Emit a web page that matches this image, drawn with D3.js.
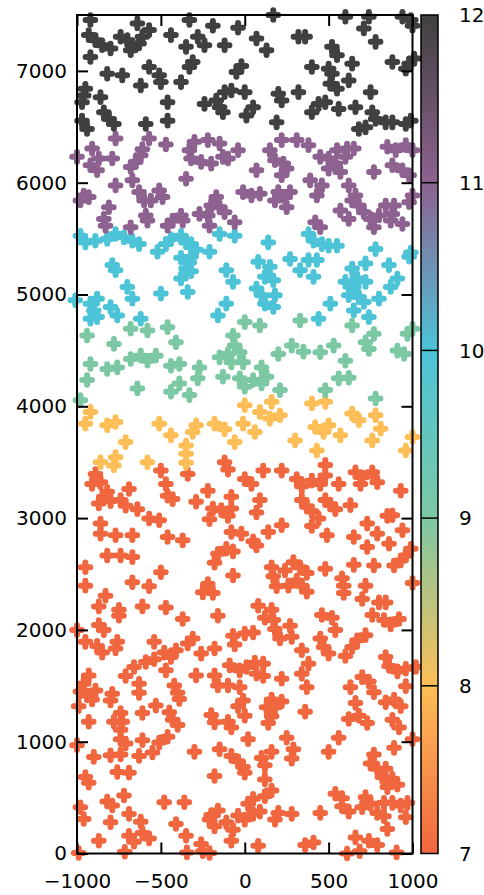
<!DOCTYPE html>
<html>
<head>
<meta charset="utf-8">
<script src="https://cdn.jsdelivr.net/npm/d3@7"></script>
<style>
  body { margin: 0; background: #fff; }
</style>
</head>
<body>
<div id="chart"></div>
<script>
// colour levels shown on the colour bar
const levels = [7, 8, 9, 10, 11, 12];
const levelColors = ["#f0663f", "#fdbe57", "#7cc8a4", "#4dc3d8", "#8e6290", "#404040"];
const xTicks = [-1000, -500, 0, 500, 1000];
const yTicks = [0, 1000, 2000, 3000, 4000, 5000, 6000, 7000];

// points per level, [x, y]
const lvl12 = [[170,7500],[-920,7455],[-640,7425],[-330,7455],[-190,7404],[-40,7386],[600,7485],[740,7485],[710,7380],[940,7485],[990,7455],[1000,7404],[-930,7320],[-890,7275],[-850,7230],[-800,7200],[-740,7305],[-700,7275],[-670,7230],[-630,7245],[-610,7305],[-570,7365],[-680,7185],[-440,7320],[-350,7215],[-280,7305],[-240,7230],[-120,7230],[70,7290],[130,7185],[320,7305],[360,7305],[-920,7125],[520,7215],[550,7140],[640,7065],[780,7260],[880,7080],[960,7020],[1010,7110],[980,7065],[-570,7035],[-310,7080],[-330,7035],[-50,6990],[-20,7044],[-820,6975],[-730,6960],[-620,6870],[-510,6960],[-500,6900],[-380,6900],[400,7035],[500,7020],[520,6975],[620,6915],[510,6885],[550,6840],[-950,6840],[-960,6780],[-860,6765],[-970,6720],[-460,6720],[-460,6555],[-240,6705],[-170,6735],[-150,6675],[-120,6810],[-80,6825],[0,6810],[-130,6630],[10,6600],[50,6675],[200,6795],[220,6735],[320,6810],[750,6810],[400,6630],[440,6705],[480,6720],[560,6660],[660,6675],[760,6630],[780,6570],[840,6540],[880,6540],[960,6525],[990,6555],[-970,6555],[-940,6480],[-840,6630],[-810,6570],[-780,6525],[-590,6525],[190,6540],[680,6480],[720,6495]];

const lvl11 = [[-770,6396],[-570,6396],[-470,6342],[-300,6366],[-220,6381],[-150,6351],[-330,6291],[-320,6216],[-260,6186],[-200,6171],[-130,6231],[-100,6216],[-40,6291],[220,6381],[310,6381],[380,6336],[150,6291],[180,6201],[230,6171],[250,6126],[220,6066],[70,6111],[-350,6036],[-1000,6231],[-910,6306],[-870,6216],[-920,6156],[-880,6111],[-790,6216],[-680,6141],[-650,6186],[-620,6246],[-610,6300],[450,6231],[500,6216],[550,6291],[610,6306],[650,6306],[600,6231],[540,6171],[500,6126],[570,6096],[850,6321],[900,6291],[960,6336],[1000,6291],[880,6156],[940,6111],[980,6066],[770,6096],[390,6021],[460,5976],[430,5886],[620,5976],[660,5886],[-770,5976],[-670,6021],[-630,5916],[-600,5841],[-560,5841],[-510,5931],[-490,5871],[-960,5886],[-930,5871],[-980,5841],[-810,5781],[-840,5676],[-830,5616],[-680,5601],[-590,5706],[-580,5661],[-10,5916],[40,5886],[90,5901],[200,5916],[240,5871],[270,5916],[250,5781],[180,5841],[-170,5871],[-200,5796],[-150,5781],[-120,5736],[-270,5721],[-220,5706],[-60,5646],[-210,5616],[-430,5661],[-460,5616],[-370,5661],[-380,5706],[570,5751],[640,5841],[680,5796],[710,5736],[750,5676],[770,5601],[840,5796],[890,5796],[880,5721],[870,5661],[800,5706],[940,5631],[980,5826],[1000,5886],[420,5646],[450,5601],[620,5676]];

const lvl10 = [[-980,5526],[-950,5466],[-890,5481],[-820,5496],[-770,5541],[-720,5511],[-670,5481],[-630,5451],[-470,5451],[-440,5496],[-380,5526],[-350,5466],[-320,5451],[-290,5400],[-150,5541],[-60,5526],[140,5466],[380,5541],[410,5481],[460,5451],[500,5436],[550,5436],[780,5406],[990,5376],[-520,5382],[-210,5382],[-380,5329],[-320,5338],[-330,5287],[-350,5233],[-320,5209],[380,5308],[430,5308],[270,5317],[980,5338],[-790,5263],[-770,5218],[-110,5218],[-70,5113],[80,5293],[150,5248],[120,5158],[170,5128],[-380,5143],[-340,5023],[-700,5068],[-670,4963],[-500,5008],[-620,4783],[330,5218],[410,5158],[640,5233],[720,5278],[860,5263],[910,5143],[870,5068],[600,5113],[650,5068],[670,5143],[720,5113],[620,4993],[680,4978],[800,4963],[710,4933],[650,4858],[740,4798],[70,5053],[100,4993],[180,4993],[120,4918],[170,4888],[510,4918],[440,4783],[-110,4918],[-160,4813],[-1010,4948],[-920,4918],[-880,4963],[-900,4858],[-880,4798],[-920,4783],[-800,4888],[-760,4813]];

const lvl9 = [[0,4753],[90,4723],[330,4768],[640,4723],[-940,4633],[-680,4693],[-580,4678],[-460,4708],[-410,4573],[-780,4558],[-70,4633],[-60,4543],[-30,4483],[-100,4468],[-150,4438],[-80,4393],[-10,4393],[280,4543],[200,4468],[350,4489],[450,4483],[530,4543],[600,4408],[720,4573],[740,4513],[770,4648],[910,4498],[950,4468],[970,4648],[1000,4693],[-920,4378],[-820,4333],[-760,4348],[-680,4423],[-620,4453],[-580,4408],[-530,4453],[-440,4363],[-390,4378],[-270,4348],[100,4348],[-940,4235],[-640,4160],[-440,4130],[-390,4205],[-330,4100],[-280,4250],[-130,4265],[-30,4250],[0,4175],[50,4235],[100,4205],[130,4265],[210,4145],[480,4145],[560,4250],[620,4256],[780,4070],[-980,4055]];

const lvl8 = [[-920,3950],[-950,3845],[-820,3830],[-770,3860],[-710,3680],[-510,3845],[-440,3740],[-350,3650],[-350,3575],[-350,3494],[-310,3770],[-290,3830],[-180,3845],[-120,3794],[-60,3680],[-10,3845],[0,4010],[60,3770],[90,3950],[150,3890],[160,4040],[210,3920],[300,3695],[400,4025],[480,4040],[420,3815],[470,3770],[500,3830],[430,3605],[570,3740],[640,3935],[680,3875],[780,3920],[810,3800],[760,3695],[960,3605],[1000,3725],[-860,3500],[-770,3545],[-780,3470],[-580,3500]];

const lvl7 = [[-890,3395],[-860,3320],[-910,3305],[-820,3236],[-500,3425],[-470,3305],[-340,3395],[-120,3500],[-100,3434],[0,3350],[40,3305],[110,3425],[220,3425],[310,3350],[340,3284],[400,3335],[450,3305],[480,3476],[480,3380],[560,3305],[660,3410],[700,3365],[690,3305],[760,3410],[790,3320],[930,3245],[-220,3245],[-690,3260],
  [-840,3191],[-870,3131],[-800,3152],[-740,3161],[-710,3110],[-640,3080],[-460,3200],[-430,3170],[-290,3146],[-80,3191],[90,3161],[70,3050],[-190,3086],[-140,3071],[-100,3020],[-80,3086],[-210,2990],[340,3161],[370,3101],[400,3062],[480,3161],[510,3122],[540,3080],[630,3116],[880,3026],[850,3020],[-570,2996],[-510,2981],[-860,2951],[-860,2861],[-770,2846],[-670,2846],[-460,2831],[-370,2801],[-80,2876],[-20,2861],[50,2792],[70,2756],[140,2876],[220,2936],[400,2930],[440,2996],[490,2846],[650,2831],[730,2951],[790,2861],[860,2771],[940,2891],[730,2741],[-820,2666],[-740,2666],[-670,2651],[-160,2681],[-110,2726],[-70,2702],[-180,2600],[960,2666],[990,2726],[930,2621],[890,2576],[770,2576],[650,2582],[480,2546],[-950,2561],[-950,2396],[-500,2516],[-670,2426],[-570,2390],[-70,2486],[160,2561],[170,2480],[240,2531],[290,2606],[330,2561],[370,2510],[310,2441],[340,2396],[190,2390],[260,2396],[370,2342],[580,2462],[590,2396],[590,2330],[720,2396],[700,2276],[800,2246],[840,2246],[1000,2420],[-220,2411],[-250,2336],[-190,2330],[-830,2306],[-870,2210],[-750,2180],[-610,2210],[-470,2201],[80,2216],[160,2180],
  [-1000,1998],[-950,1893],[-870,2043],[-840,1998],[-880,1857],[-850,1797],[-760,1893],[-770,1833],[-750,2127],[-370,2097],[-160,2127],[120,2109],[170,2088],[180,2007],[270,2037],[460,2133],[520,2109],[540,1998],[760,2133],[830,2088],[870,2049],[920,2097],[-540,1893],[-480,1797],[-440,1758],[-410,1818],[-340,1878],[-310,1923],[-260,1788],[-180,1833],[-70,1947],[-60,1869],[0,1968],[50,1977],[210,1923],[280,1938],[340,1818],[450,1923],[470,1848],[500,1788],[600,1767],[640,1848],[670,1908],[720,1953],[-660,1668],[-590,1713],[-540,1737],[-470,1638],[-710,1587],[-630,1518],[-630,1437],[-930,1593],[-960,1518],[-980,1449],[-940,1413],[-890,1458],[-910,1377],[-990,1317],[-790,1428],[-800,1368],[-290,1593],[-180,1593],[-160,1503],[-100,1503],[-30,1488],[-90,1683],[-30,1638],[10,1668],[60,1707],[110,1698],[70,1608],[110,1587],[220,1563],[340,1608],[370,1488],[380,1698],[-420,1503],[-400,1437],[-390,1383],[-530,1323],[-450,1263],[-430,1197],[-400,1149],[-10,1368],[-40,1317],[0,1233],[160,1377],[220,1359],[180,1308],[130,1308],[160,1227],[140,1167],[360,1269],[630,1488],[660,1347],[700,1578],[740,1539],[770,1443],[620,1203],[680,1233],[730,1167],[840,1758],[860,1677],[910,1629],[960,1653],[1020,1668],[960,1497],[840,1353],[890,1377],[930,1317],[880,1197],[920,1128],[-930,1179],[-740,1257],[-730,1179],[-740,1107],[-610,1257],[-200,1239],[-180,1173],[-100,1179],[-80,1128],[-780,1179],
  [-1000,969],[-900,864],[-800,879],[-740,885],[-740,1023],[-710,984],[-610,1014],[-630,873],[-550,903],[-510,993],[-460,1044],[-300,909],[-150,933],[-80,873],[-40,825],[-10,774],[0,723],[20,1023],[100,855],[120,789],[160,909],[250,1035],[290,933],[280,849],[500,909],[560,1035],[770,885],[750,804],[790,759],[840,759],[890,945],[1000,1023],[820,684],[880,669],[-950,684],[-930,633],[-760,729],[-690,723],[-180,693],[120,663],[850,594],[910,615],[-720,519],[-820,465],[-790,429],[-480,459],[-360,459],[160,564],[120,513],[50,489],[20,444],[540,534],[580,495],[580,423],[720,504],[750,444],[830,453],[880,453],[930,429],[970,453],[450,363],[-980,414],[-960,309],[-800,279],[-690,354],[-620,285],[-410,264],[-200,345],[-160,384],[-210,303],[-180,243],[-110,279],[-70,213],[-40,339],[0,303],[50,354],[90,375],[200,363],[180,303],[280,354],[620,375],[700,414],[790,363],[830,333],[960,324],[850,219],[-870,114],[-690,159],[-660,105],[-610,183],[-570,135],[-350,159],[-260,84],[-80,114],[80,69],[360,75],[410,99],[660,144],[740,114],[790,75],
  [-990,5],[-715,15],[-345,10],[-250,20],[-210,5],[610,0],[685,20],[905,10]];

const groups = [lvl7, lvl8, lvl9, lvl10, lvl11, lvl12];

const width = 484, height = 895;
const plot = { left: 77, right: 412.5, top: 15, bottom: 853.5 };
const bar = { left: 421, right: 438 };
const fontFamily = "'DejaVu Sans', sans-serif";

const svg = d3.select("#chart").append("svg")
    .attr("width", width)
    .attr("height", height)
    .style("font-family", fontFamily);

const x = d3.scaleLinear().domain([-1000, 1000]).range([plot.left, plot.right]);
const y = d3.scaleLinear().domain([0, 7500]).range([plot.bottom, plot.top]);
const c = d3.scaleLinear().domain([7, 12]).range([plot.bottom, plot.top]);
const color = d3.scaleOrdinal().domain(levels).range(levelColors);

// points
const pts = groups.flatMap((g, i) => g.map(p => ({ x: p[0], y: p[1], level: levels[i] })));
svg.append("g")
    .selectAll("path")
    .data(pts)
    .enter()
    .append("path")
    .attr("transform", d => `translate(${x(d.x)},${y(d.y)})`)
    .attr("d", "M-4.8,0H4.8M0,-4.8V4.8")
    .attr("stroke", d => color(d.level))
    .attr("stroke-width", 6)
    .attr("stroke-linecap", "round")
    .attr("fill", "none");

// axes, ticks pointing inward
const styleAxis = g => {
    g.select(".domain").remove();
    g.selectAll("line").attr("stroke", "#000").attr("stroke-width", 2);
    g.selectAll("text").attr("fill", "#000").style("font-size", "20px").style("font-family", fontFamily);
};

svg.append("g")
    .attr("transform", `translate(0,${plot.bottom})`)
    .call(d3.axisBottom(x).tickValues(xTicks).tickSize(-11).tickPadding(20).tickFormat(d3.format("")))
    .call(styleAxis);

svg.append("g")
    .attr("transform", `translate(0,${plot.top})`)
    .call(d3.axisTop(x).tickValues(xTicks).tickSize(-11).tickFormat(""))
    .call(styleAxis);

svg.append("g")
    .attr("transform", `translate(${plot.left},0)`)
    .call(d3.axisLeft(y).tickValues(yTicks).tickSize(-11).tickPadding(10).tickFormat(d3.format("")))
    .call(styleAxis);

svg.append("g")
    .attr("transform", `translate(${plot.right},0)`)
    .call(d3.axisRight(y).tickValues(yTicks).tickSize(-11).tickFormat(""))
    .call(styleAxis);

svg.append("rect")
    .attr("x", plot.left)
    .attr("y", plot.top)
    .attr("width", plot.right - plot.left)
    .attr("height", plot.bottom - plot.top)
    .attr("fill", "none")
    .attr("stroke", "#000")
    .attr("stroke-width", 2);

// colour bar
const grad = svg.append("defs").append("linearGradient")
    .attr("id", "cbar")
    .attr("x1", 0).attr("y1", 1).attr("x2", 0).attr("y2", 0);
grad.selectAll("stop")
    .data(levels)
    .enter()
    .append("stop")
    .attr("offset", d => (d - 7) / 5)
    .attr("stop-color", d => color(d));

svg.append("rect")
    .attr("x", bar.left)
    .attr("y", plot.top)
    .attr("width", bar.right - bar.left)
    .attr("height", plot.bottom - plot.top)
    .attr("fill", "url(#cbar)")
    .attr("stroke", "#000")
    .attr("stroke-width", 1.5);

svg.append("g")
    .selectAll("line")
    .data(levels.slice(1, -1))
    .enter()
    .append("line")
    .attr("x1", bar.left)
    .attr("x2", bar.right)
    .attr("y1", d => c(d))
    .attr("y2", d => c(d))
    .attr("stroke", "#000")
    .attr("stroke-width", 1.5);

svg.append("g")
    .selectAll("text")
    .data(levels)
    .enter()
    .append("text")
    .attr("x", 459)
    .attr("y", d => c(d))
    .attr("dy", "0.36em")
    .style("font-size", "20px")
    .attr("fill", "#000")
    .text(d => d);
</script>
</body>
</html>
